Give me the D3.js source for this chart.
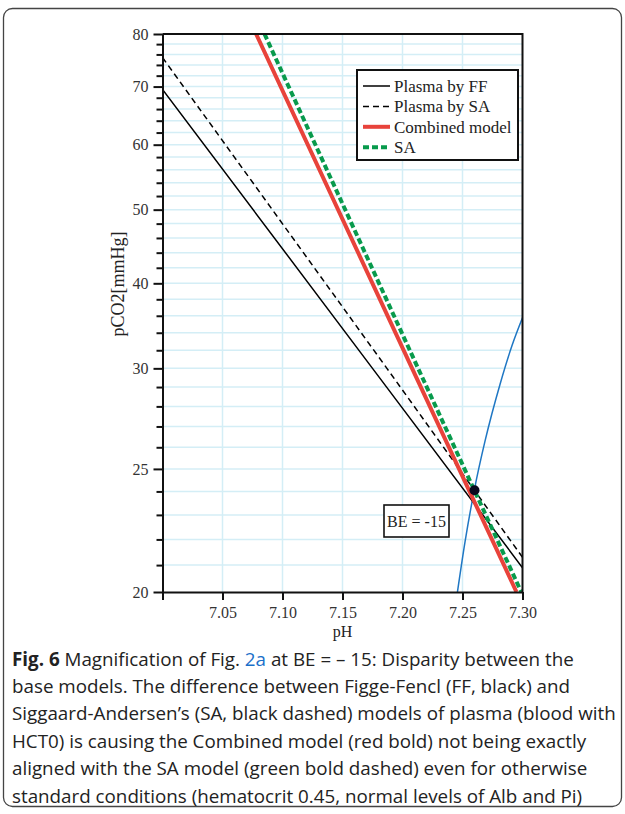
<!DOCTYPE html>
<html>
<head>
<meta charset="utf-8">
<script src="https://cdn.jsdelivr.net/npm/d3@7/dist/d3.min.js"></script>
<style>
  body { margin: 0; background: #fff; }
  svg { display: block; }
  .axis text { font-family: "Liberation Serif", serif; font-size: 16px; fill: #333; }
  .axis path, .axis line { stroke: #111; stroke-width: 2; }
  .grid line { stroke: #d4eef6; stroke-width: 1.5; }
  .serif { font-family: "Liberation Serif", serif; fill: #222; }
  .caption { font-family: "Open Sans", sans-serif; font-size: 18.8px; fill: #222; }
</style>
</head>
<body>
<script>
// ---- data ----
var phTicks = [7.00, 7.05, 7.10, 7.15, 7.20, 7.25, 7.30];
var pco2Major = [20, 25, 30, 40, 50, 60, 70, 80];
var pco2Minor = [21, 22, 23, 24, 26, 27, 28, 29, 32, 34, 36, 38, 42, 44, 46, 48,
                 52, 54, 56, 58, 62, 64, 66, 68, 72, 74, 76, 78];

// [pH, pCO2]
var plasmaFF = [[7.000, 69.5], [7.175, 30], [7.300, 20.9]];
var plasmaSA = [[7.000, 75.4], [7.187, 30], [7.300, 21.3]];
var combined = [[7.078, 80], [7.208, 30], [7.295, 20]];
var saModel  = [[7.085, 80], [7.213, 30], [7.299, 20]];
var blueCurve = [[7.2458, 20], [7.2521, 21.9], [7.2598, 24.05], [7.2688, 26.3],
                 [7.2813, 29.15], [7.2912, 32.5], [7.3004, 35.9]];
var bePoint = [7.26, 24.05];

var legendLabels = ["Plasma by FF", "Plasma by SA", "Combined model", "SA"];
var captionLines = [
  ["Fig. 6", " Magnification of Fig. ", "2a", " at BE = \u2013 15: Disparity between the"],
  ["base models. The difference between Figge-Fencl (FF, black) and"],
  ["Siggaard-Andersen\u2019s (SA, black dashed) models of plasma (blood with"],
  ["HCT0) is causing the Combined model (red bold) not being exactly"],
  ["aligned with the SA model (green bold dashed) even for otherwise"],
  ["standard conditions (hematocrit 0.45, normal levels of Alb and Pi)"]
];

var W = 625, H = 814;
var pL = 162.5, pR = 522.5, pT = 34, pB = 592;

var svg = d3.select("body").append("svg").attr("width", W).attr("height", H);

// outer figure frame
svg.append("rect")
   .attr("x", 3.5).attr("y", 8.5).attr("width", 618).attr("height", 798)
   .attr("rx", 9).attr("fill", "none").attr("stroke", "#444").attr("stroke-width", 1.3);

var x = d3.scaleLinear().domain([7.0, 7.3]).range([pL, pR]);

// pCO2 axis of the figure: log below 30, log(v+30) above 30
function warp(v) {
  return v < 30 ? Math.log(v / 20) : Math.log(30 / 20) + Math.log((v + 30) / 60);
}
var yLin = d3.scaleLinear().domain([warp(20), warp(80)]).range([pB, pT]);
function y(v) { return yLin(warp(v)); }
y.copy = function () { return y; };
y.range = function () { return yLin.range(); };
y.domain = function () { return [20, 80]; };

// grid
var grid = svg.append("g").attr("class", "grid");
grid.selectAll(".gx").data(phTicks.slice(1, -1)).join("line")
    .attr("x1", d => x(d)).attr("x2", d => x(d)).attr("y1", pT).attr("y2", pB);
grid.selectAll(".gy").data(pco2Minor.concat(pco2Major.slice(1, -1))).join("line")
    .attr("class", "gy")
    .attr("x1", pL).attr("x2", pR).attr("y1", d => y(d)).attr("y2", d => y(d));

// lines
svg.append("clipPath").attr("id", "plot")
   .append("rect").attr("x", pL).attr("y", pT).attr("width", pR - pL).attr("height", pB - pT);
var plot = svg.append("g").attr("clip-path", "url(#plot)");
var line = d3.line().x(d => x(d[0])).y(d => y(d[1]));

plot.append("path").datum(blueCurve)
    .attr("d", line.curve(d3.curveMonotoneX))
    .attr("fill", "none").attr("stroke", "#1f77c4").attr("stroke-width", 1.5);
line.curve(d3.curveLinear);
plot.append("path").datum(plasmaFF).attr("d", line)
    .attr("fill", "none").attr("stroke", "#000").attr("stroke-width", 1.5);
plot.append("path").datum(plasmaSA).attr("d", line)
    .attr("fill", "none").attr("stroke", "#000").attr("stroke-width", 1.5).attr("stroke-dasharray", "6,4");
plot.append("path").datum(combined).attr("d", line)
    .attr("fill", "none").attr("stroke", "#e8433b").attr("stroke-width", 4);
plot.append("path").datum(saModel).attr("d", line)
    .attr("fill", "none").attr("stroke", "#089a4c").attr("stroke-width", 4).attr("stroke-dasharray", "6,3");

svg.append("circle").attr("cx", x(bePoint[0])).attr("cy", y(bePoint[1])).attr("r", 5).attr("fill", "#0a0a1e");

// frame top/right
svg.append("path")
   .attr("d", "M" + pL + "," + pT + "H" + pR + "V" + pB)
   .attr("fill", "none").attr("stroke", "#111").attr("stroke-width", 2);

// axes
svg.append("g").attr("class", "axis")
   .attr("transform", "translate(0," + pB + ")")
   .call(d3.axisBottom(x).tickValues(phTicks).tickSize(8).tickPadding(7).tickSizeOuter(0)
         .tickFormat(d => d === 7.0 ? "" : d3.format(".2f")(d)));

svg.append("g").attr("class", "axis")
   .attr("transform", "translate(" + pL + ",0)")
   .call(d3.axisLeft(y).tickValues(pco2Minor).tickSize(6).tickSizeOuter(0).tickFormat(""));
svg.append("g").attr("class", "axis")
   .attr("transform", "translate(" + pL + ",0)")
   .call(d3.axisLeft(y).tickValues(pco2Major).tickSize(9).tickPadding(5).tickSizeOuter(0));

svg.append("text").attr("class", "serif").attr("x", (pL + pR) / 2).attr("y", 637)
   .attr("text-anchor", "middle").attr("font-size", 16).text("pH");
svg.append("text").attr("class", "serif")
   .attr("transform", "translate(124,284) rotate(-90)")
   .attr("text-anchor", "middle").attr("font-size", 18).text("pCO2[mmHg]");

// legend
var lg = svg.append("g").attr("transform", "translate(357,70)");
lg.append("rect").attr("width", 161).attr("height", 90)
  .attr("fill", "#fff").attr("stroke", "#111").attr("stroke-width", 2);
var lstyle = [
  {c: "#000", w: 1.5, d: null},
  {c: "#000", w: 1.5, d: "6,4"},
  {c: "#e8433b", w: 4, d: null},
  {c: "#089a4c", w: 4, d: "6,3"}
];
var row = lg.selectAll(".row").data(legendLabels).join("g")
  .attr("transform", (d, i) => "translate(0," + (16 + i * 20.4) + ")");
row.append("line").attr("x1", 6).attr("x2", 33)
  .attr("stroke", (d, i) => lstyle[i].c).attr("stroke-width", (d, i) => lstyle[i].w)
  .attr("stroke-dasharray", (d, i) => lstyle[i].d);
row.append("text").attr("class", "serif").attr("x", 37).attr("y", 6)
  .attr("font-size", 17).text(d => d);

// BE box
svg.append("rect").attr("x", 384).attr("y", 505).attr("width", 65).attr("height", 32)
   .attr("fill", "#fff").attr("stroke", "#111").attr("stroke-width", 1.6);
svg.append("text").attr("class", "serif").attr("x", 416.5).attr("y", 526.5)
   .attr("text-anchor", "middle").attr("font-size", 16).text("BE = -15");

// caption
var cap = svg.selectAll(".caption").data(captionLines).join("text")
  .attr("class", "caption").attr("x", 12).attr("y", (d, i) => 665.5 + i * 27.4);
cap.selectAll("tspan").data(d => d).join("tspan")
  .attr("font-weight", d => d === "Fig. 6" ? 700 : 400)
  .attr("fill", d => d === "2a" ? "#1a6fc9" : null)
  .text(d => d);
</script>
</body>
</html>
